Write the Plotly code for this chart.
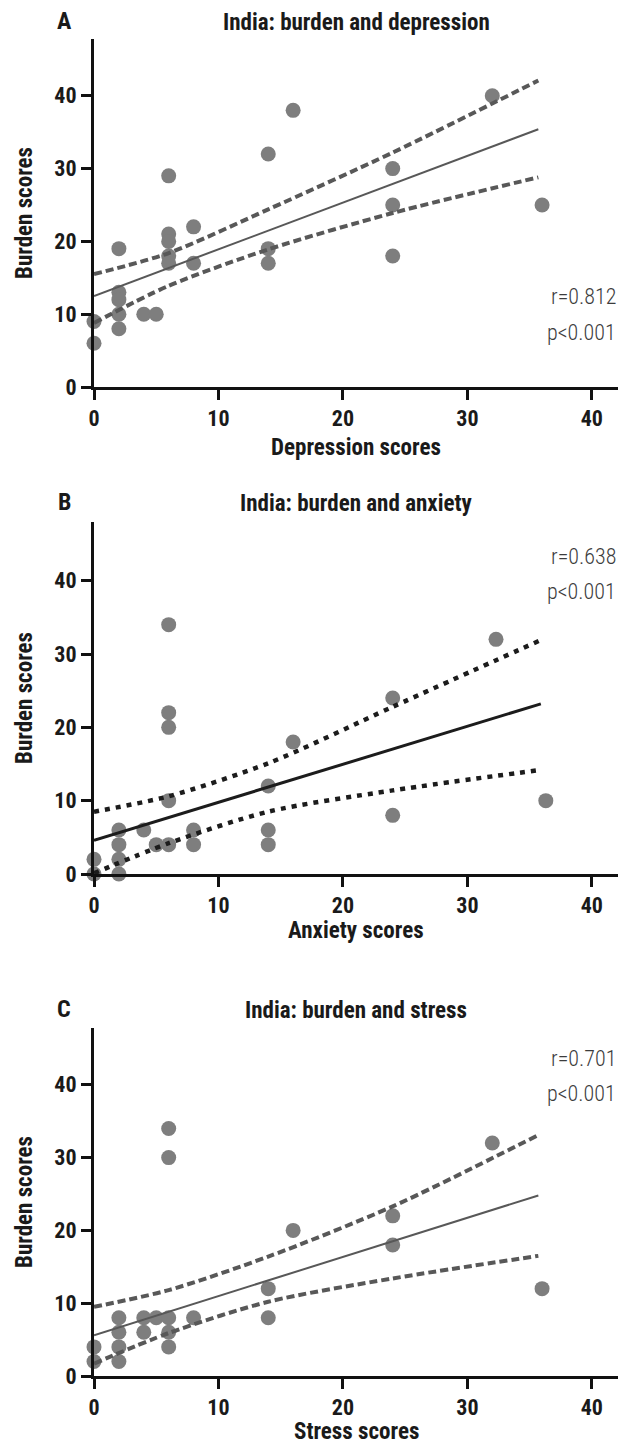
import plotly.graph_objects as go

# ---------------- data ----------------
# Panel A: depression vs burden
dep_x = [0, 0, 2, 2, 2, 2, 2, 4, 5, 6, 6, 6, 6, 6, 8, 8, 14, 14, 14, 16, 24, 24, 24, 32, 36]
dep_y = [6, 9, 19, 13, 12, 10, 8, 10, 10, 29, 21, 20, 18, 17, 22, 17, 32, 19, 17, 38, 30, 25, 18, 40, 25]
dep_fit_x = [0, 35.7]
dep_fit_y = [12.5, 35.4]
dep_ci_x = [0, 6, 14, 24, 35.7]
dep_ci_up = [15.5, 18.4, 24.4, 32.2, 42.1]
dep_ci_lo = [8.8, 13.9, 18.9, 23.9, 28.8]

# Panel B: anxiety vs burden
anx_x = [0, 0, 2, 2, 2, 2, 4, 5, 6, 6, 6, 6, 6, 8, 8, 14, 14, 14, 16, 24, 24, 32.3, 36.3]
anx_y = [2, 0, 6, 4, 2, 0, 6, 4, 34, 22, 20, 10, 4, 6, 4, 12, 6, 4, 18, 24, 8, 32, 10]
anx_fit_x = [0, 35.9]
anx_fit_y = [4.6, 23.2]
anx_ci_x = [0, 6, 14, 24, 35.9]
anx_ci_up = [8.5, 10.6, 15.1, 22.8, 31.9]
anx_ci_lo = [0.1, 4.2, 8.5, 11.4, 14.2]

# Panel C: stress vs burden
str_x = [0, 0, 2, 2, 2, 2, 4, 4, 5, 6, 6, 6, 6, 6, 8, 14, 14, 16, 24, 24, 32, 36]
str_y = [4, 2, 8, 6, 4, 2, 8, 6, 8, 34, 30, 8, 6, 4, 8, 12, 8, 20, 22, 18, 32, 12]
str_fit_x = [0, 35.7]
str_fit_y = [5.6, 24.8]
str_ci_x = [0, 6, 14, 24, 35.7]
str_ci_up = [9.5, 11.8, 16.4, 23.3, 33.1]
str_ci_lo = [1.7, 5.9, 10.2, 13.4, 16.5]

x_ticks = [0, 10, 20, 30, 40]
y_ticks = [0, 10, 20, 30, 40]

titles = ["India: burden and depression", "India: burden and anxiety", "India: burden and stress"]
letters = ["A", "B", "C"]
x_titles = ["Depression scores", "Anxiety scores", "Stress scores"]
y_title = "Burden scores"
r_texts = ["r=0.812", "r=0.638", "r=0.701"]
p_texts = ["p<0.001", "p<0.001", "p<0.001"]

# ---------------- layout geometry ----------------
W, H = 623, 1444
ML, MR, MT, MB = 94, 5, 39, 68
PH = H - MT - MB
PW = W - ML - MR
X0_PIX = H - MB  # pixel row of paper y=0


def py(pix):
    return (X0_PIX - pix) / PH


def px(pix):
    return (pix - ML) / PW


panels = [
    # (top px, bottom px, ymax)
    (39, 387, 47.8),
    (522, 874, 48.0),
    (1028, 1376, 47.8),
]
title_pix = [22, 503, 1010]
r_pix = [297, 556, 1058]
xtitle_pix = [447, 930, 1431]

COND = "Roboto Condensed, Liberation Sans Narrow, Arial Narrow, sans-serif"
INK = "#1a1a1a"

fig = go.Figure()

datasets = [
    (dep_x, dep_y, dep_fit_x, dep_fit_y, dep_ci_x, dep_ci_up, dep_ci_lo),
    (anx_x, anx_y, anx_fit_x, anx_fit_y, anx_ci_x, anx_ci_up, anx_ci_lo),
    (str_x, str_y, str_fit_x, str_fit_y, str_ci_x, str_ci_up, str_ci_lo),
]

for i, (sx, sy, fx, fy, cx, cu, cl) in enumerate(datasets):
    xa = "x" if i == 0 else f"x{i+1}"
    ya = "y" if i == 0 else f"y{i+1}"
    if i == 1:
        lcol = "#1c1c1c"
        ci_dash = "5px,6px"
        ci_w = 4.5
        fit_w = 3
    else:
        lcol = "#585858"
        ci_dash = "8px,4px"
        ci_w = 4
        fit_w = 2
    fig.add_trace(go.Scatter(x=sx, y=sy, mode="markers", xaxis=xa, yaxis=ya,
                             marker=dict(size=15, color="#7e7e7e"),
                             cliponaxis=False, showlegend=False))
    fig.add_trace(go.Scatter(x=fx, y=fy, mode="lines", xaxis=xa, yaxis=ya,
                             line=dict(color=lcol, width=fit_w),
                             showlegend=False))
    for arr in (cu, cl):
        fig.add_trace(go.Scatter(x=cx, y=arr, mode="lines", xaxis=xa, yaxis=ya,
                                 line=dict(color=lcol, width=ci_w, dash=ci_dash,
                                           shape="spline", smoothing=0.8),
                                 showlegend=False))

annotations = []
layout_axes = {}
for i, (top, bot, ymax) in enumerate(panels):
    sfx = "" if i == 0 else str(i + 1)
    dom = [py(bot), py(top)]
    layout_axes[f"xaxis{sfx}"] = dict(
        domain=[0, 1], anchor=f"y{sfx}", range=[0, 42.1],
        tickvals=x_ticks, ticks="outside", ticklen=10, tickwidth=3,
        showline=True, linewidth=3, linecolor="#111111", tickcolor="#111111",
        showgrid=False, zeroline=False,
        tickfont=dict(family=COND, size=22, color=INK, weight="bold"),
    )
    layout_axes[f"yaxis{sfx}"] = dict(
        domain=dom, anchor=f"x{sfx}", range=[0, ymax],
        tickvals=y_ticks, ticks="outside", ticklen=10, tickwidth=3,
        showline=True, linewidth=3, linecolor="#111111", tickcolor="#111111",
        showgrid=False, zeroline=False,
        tickfont=dict(family=COND, size=22, color=INK, weight="bold"),
        title=dict(text=y_title, standoff=16,
                   font=dict(family=COND, size=23, color=INK, weight="bold")),
    )
    annotations.append(dict(text=titles[i], xref="paper", yref="paper",
                            x=0.5, y=py(title_pix[i]), xanchor="center", yanchor="middle",
                            showarrow=False,
                            font=dict(family=COND, size=23, color=INK, weight="bold")))
    annotations.append(dict(text=x_titles[i], xref="paper", yref="paper",
                            x=0.5, y=py(xtitle_pix[i]), xanchor="center", yanchor="middle",
                            showarrow=False,
                            font=dict(family=COND, size=23, color=INK, weight="bold")))
    annotations.append(dict(text=letters[i], xref="paper", yref="paper",
                            x=px(64), y=py(title_pix[i] - 1),
                            xanchor="center", yanchor="middle", showarrow=False,
                            font=dict(family=COND, size=24, color=INK, weight="bold")))
    annotations.append(dict(text=r_texts[i], xref="paper", yref="paper",
                            x=px(618), y=py(r_pix[i]),
                            xanchor="right", yanchor="middle", showarrow=False,
                            font=dict(family=COND, size=22, color="#3c3c3c", weight=300)))
    annotations.append(dict(text=p_texts[i], xref="paper", yref="paper",
                            x=px(618), y=py(r_pix[i] + 35),
                            xanchor="right", yanchor="middle", showarrow=False,
                            font=dict(family=COND, size=22, color="#3c3c3c", weight=300)))

fig.update_layout(
    width=W, height=H,
    margin=dict(l=ML, r=MR, t=MT, b=MB, autoexpand=False),
    paper_bgcolor="white", plot_bgcolor="white",
    annotations=annotations,
    **layout_axes,
)

fig.write_html(
    "out.html",
    config={"displayModeBar": False},
    post_script="document.body.style.margin='0';document.body.style.overflow='hidden';",
)
